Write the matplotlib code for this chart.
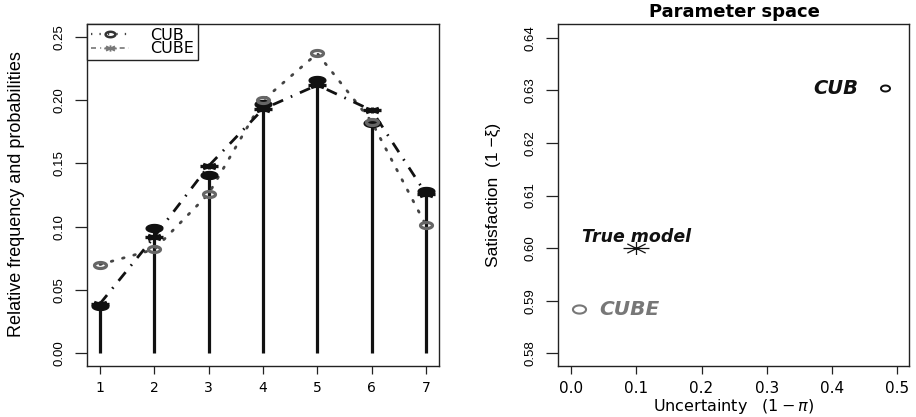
import numpy as np
import matplotlib
matplotlib.use("Agg")
import matplotlib.pyplot as plt
from matplotlib.path import Path
from matplotlib.lines import Line2D

# ---------------- data ----------------
categories = [1, 2, 3, 4, 5, 6, 7]
observed = [0.037, 0.099, 0.141, 0.197, 0.216, 0.182, 0.128]
cub_probs = [0.070, 0.082, 0.126, 0.200, 0.237, 0.183, 0.101]
cube_probs = [0.039, 0.092, 0.148, 0.193, 0.212, 0.192, 0.126]
left_yticks = [0.00, 0.05, 0.10, 0.15, 0.20, 0.25]
left_yticklabels = ["0.00", "0.05", "0.10", "0.15", "0.20", "0.25"]
legend_labels = ["CUB", "CUBE"]

model_names = ["True model", "CUB", "CUBE"]
uncertainty = [0.100, 0.481, 0.012]
satisfaction = [0.600, 0.6304, 0.5884]
right_xticks = [0.0, 0.1, 0.2, 0.3, 0.4, 0.5]
right_xticklabels = ["0.0", "0.1", "0.2", "0.3", "0.4", "0.5"]
right_yticks = [0.58, 0.59, 0.60, 0.61, 0.62, 0.63, 0.64]
right_yticklabels = ["0.58", "0.59", "0.60", "0.61", "0.62", "0.63", "0.64"]


# ---------------- marker shapes ----------------
def ellipse_marker(ratio):
    t = np.linspace(0, 2 * np.pi, 64)
    verts = np.column_stack([np.cos(t), np.sin(t) / ratio])
    return Path(verts, closed=True)


def asterisk_marker(ratio):
    v, c = [], []
    for ang in [0, 45, 90, 135]:
        a = np.deg2rad(ang)
        dx, dy = np.cos(a), np.sin(a) / ratio
        v += [(-dx, -dy), (dx, dy)]
        c += [Path.MOVETO, Path.LINETO]
    return Path(v, c)


VFONT = "Liberation Sans"
HFONT = "DejaVu Sans"

fig = plt.figure(figsize=(9.16, 4.17), dpi=100)
W, H = 916.0, 417.0

def axes_px(x0, x1, y0, y1):
    return fig.add_axes([x0 / W, (H - y1) / H, (x1 - x0) / W, (y1 - y0) / H])

ax1 = axes_px(87, 439, 24, 366)
ax2 = axes_px(557.7, 909, 24, 366)

for ax in (ax1, ax2):
    for s in ax.spines.values():
        s.set_linewidth(1.0)
        s.set_color("#222222")
    ax.tick_params(axis="y", length=8.5, width=0.9, pad=7, color="#222222")
    ax.tick_params(axis="x", length=5.5, width=0.9, pad=5, color="#222222")

# ---------------- left panel ----------------
ax1.vlines(categories, 0, observed, colors="#111111", linewidth=2.3, zorder=2)
ax1.plot(categories, observed, linestyle="none", marker=ellipse_marker(2.1),
         markersize=12, markerfacecolor="#111111", markeredgecolor="#111111",
         markeredgewidth=1.0, zorder=4)
ax1.plot(categories, cub_probs, color="#444444", linestyle=(0, (0.6, 3.6)),
         linewidth=2.0, dash_capstyle="round", zorder=3)
ax1.plot(categories, cub_probs, linestyle="none", marker=ellipse_marker(2.0),
         markersize=8.6, markerfacecolor="none", markeredgecolor="#666666",
         markeredgewidth=2.3, zorder=5)
ax1.plot(categories, cube_probs, color="#111111", linestyle=(0, (4.0, 3.0, 0.6, 3.0)),
         linewidth=2.0, zorder=3)
ax1.plot(categories, cube_probs, linestyle="none", marker=asterisk_marker(3.0),
         markersize=13, markerfacecolor="none", markeredgecolor="#111111",
         markeredgewidth=2.4, zorder=5)

ax1.set_xlim(0.76, 7.24)
ax1.set_ylim(-0.0103, 0.2603)
ax1.set_xticks(categories)
ax1.set_xticklabels([str(c) for c in categories], fontsize=10, family=HFONT)
ax1.set_yticks(left_yticks)
ax1.set_yticklabels(left_yticklabels, fontsize=9.5, family=VFONT, rotation=90, va="center")
fig.text(17 / W, 1 - 194 / H, "Relative frequency and probabilities", rotation=90,
         ha="center", va="center", fontsize=13, family=VFONT)

h1 = Line2D([], [], color="#444444", linestyle=(0, (0.6, 3.2)), linewidth=1.6,
            marker=ellipse_marker(1.8), markersize=7, markerfacecolor="none",
            markeredgecolor="#333333", markeredgewidth=1.8)
h2 = Line2D([], [], color="#777777", linestyle=(0, (3, 2.5, 0.6, 2.5)), linewidth=1.2,
            marker=asterisk_marker(2.0), markersize=9, markerfacecolor="none",
            markeredgecolor="#777777", markeredgewidth=1.3)
leg = ax1.legend([h1, h2], legend_labels, loc="upper left", borderaxespad=0,
                 fancybox=False, framealpha=1, edgecolor="#222222",
                 prop={"family": HFONT, "size": 11.5}, handlelength=2.4,
                 handletextpad=1.3, labelspacing=-0.1, borderpad=0.25)
leg.get_frame().set_linewidth(1.0)

# ---------------- right panel ----------------
ax2.plot([uncertainty[0]], [satisfaction[0]], linestyle="none",
         marker=asterisk_marker(2.0), markersize=18.7, markerfacecolor="none",
         markeredgecolor="#111111", markeredgewidth=0.9)
ax2.plot([uncertainty[1]], [satisfaction[1]], linestyle="none",
         marker=ellipse_marker(1.5), markersize=6.5, markerfacecolor="none",
         markeredgecolor="#111111", markeredgewidth=1.4)
ax2.plot([uncertainty[2]], [satisfaction[2]], linestyle="none",
         marker=ellipse_marker(1.6), markersize=9.4, markerfacecolor="none",
         markeredgecolor="#777777", markeredgewidth=1.5)

ax2.annotate(model_names[0], (uncertainty[0], satisfaction[0]), xytext=(0.5, 8),
             textcoords="offset points", ha="center", va="center",
             fontsize=12.5, family=HFONT, weight="bold", style="italic", color="#111111")
ax2.annotate(model_names[1], (uncertainty[1], satisfaction[1]), xytext=(-19.4, 0),
             textcoords="offset points", ha="right", va="center",
             fontsize=14, family=HFONT, weight="bold", style="italic", color="#111111")
ax2.annotate(model_names[2], (uncertainty[2], satisfaction[2]), xytext=(15, 0),
             textcoords="offset points", ha="left", va="center",
             fontsize=14.5, family=HFONT, weight="bold", style="italic", color="#777777")

ax2.set_xlim(-0.0204, 0.518)
ax2.set_ylim(0.5776, 0.6426)
ax2.set_xticks(right_xticks)
ax2.set_xticklabels(right_xticklabels, fontsize=11, family=HFONT)
ax2.set_yticks(right_yticks)
ax2.set_yticklabels(right_yticklabels, fontsize=9.5, family=VFONT, rotation=90, va="center")
fig.text(734 / W, 1 - 12 / H, "Parameter space", ha="center", va="center",
         fontsize=13, family=HFONT, weight="bold")
fig.text(734 / W, 1 - 407 / H, "Uncertainty   $(1-\\pi)$", ha="center", va="center",
         fontsize=11.5, family=HFONT)
fig.text(493 / W, 1 - 195 / H, "Satisfaction  (1 \u2212\u03be)", rotation=90,
         ha="center", va="center", fontsize=12.5, family=VFONT)

fig.savefig("out.png", dpi=100)
